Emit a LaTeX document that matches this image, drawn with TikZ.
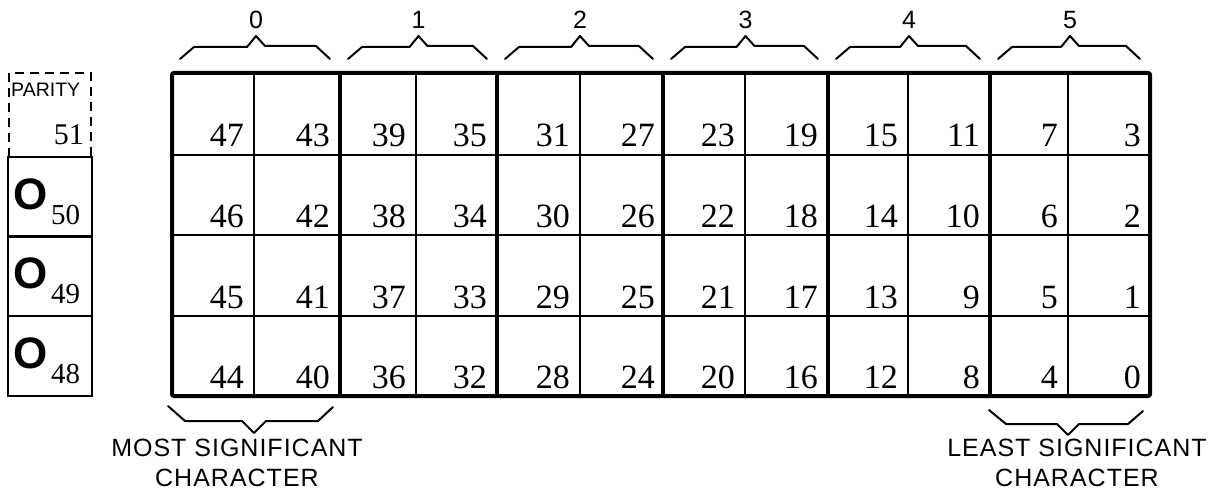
\documentclass[tikz,border=0pt]{standalone}
\usepackage{fontspec}
\setsansfont{Liberation Sans}
\newfontfamily\numfont{Liberation Serif}
\begin{document}
\begin{tikzpicture}[x=1pt,y=-1pt,
  num/.style={font=\numfont\fontsize{34}{34}\selectfont, anchor=base east, inner sep=0pt},
  sub/.style={font=\numfont\fontsize{29}{29}\selectfont, anchor=base west, inner sep=0pt},
  bigo/.style={font=\sffamily\bfseries\fontsize{44}{44}\selectfont, anchor=base west, inner sep=0pt},
  grplbl/.style={font=\sffamily\fontsize{25}{25}\selectfont, inner sep=0pt},
  caption/.style={font=\sffamily\fontsize{25}{30}\selectfont\addfontfeature{LetterSpace=4}, align=center, inner sep=0pt},
  thickline/.style={line width=4pt},
  thinline/.style={line width=1.5pt},
  boxline/.style={line width=2pt},
  bracestyle/.style={line width=2pt, line join=round, line cap=round}]
\useasboundingbox (0,0) rectangle (1212,497);

% thin horizontal lines
\foreach \y in {155,235,316}
  \draw[thinline] (172,\y) -- (1150,\y);
% thin vertical lines
\foreach \x in {254,416,580,745,908,1068}
  \draw[thinline] (\x,73) -- (\x,396);
% thick group separators
\foreach \x in {340,497,663,828,990}
  \draw[thickline] (\x,73) -- (\x,396);
% outer frame
\draw[thickline, rounded corners=2pt] (172,73) rectangle (1150,396);

% numbers
\foreach \yb [count=\ri from 0] in {147,227,308,388}{
  \foreach \b/\xr in {47/244,43/330,39/406,35/487,31/570,27/655,23/735,19/818,15/898,11/980,7/1058,3/1141}{
    \pgfmathtruncatemacro\v{\b-\ri}
    \node[num] (n\v) at (\xr,\yb) {\v};
  }
}

% group braces and labels
\foreach \L/\R/\g in {172/340/0,340/497/1,497/663/2,663/828/3,828/990/4,990/1150/5}{
  \pgfmathsetmacro\M{(\L+\R)/2}
  \draw[bracestyle] (\L+8,59) -- (\L+22,47) -- (\M-9,47) -- (\M,36) -- (\M+9,46) -- (\R-24,46) -- (\R-10,59);
  \node[grplbl] (g\g) at (\M,20) {\g};
}

% bottom braces
\draw[bracestyle] (168,406) -- (185,421) -- (242,421) -- (254,433) -- (266,421) -- (318,421) -- (333,407);
\draw[bracestyle] (989,410) -- (1006,424) -- (1057,424) -- (1068,435) -- (1079,424) -- (1128,424) -- (1143,411);

\node[caption] (msc) at (237,463) {MOST SIGNIFICANT\\CHARACTER};
\node[caption] (lsc) at (1077,463) {LEAST SIGNIFICANT\\CHARACTER};

% left column
\draw[boxline, dashed, dash pattern=on 9pt off 6pt] (9,157) -- (9,73) -- (91,73) -- (91,157);
\node[font=\sffamily\fontsize{19.5}{19.5}\selectfont, anchor=base west, inner sep=0pt] (parity) at (11,97) {PARITY};
\node[font=\numfont\fontsize{30}{30}\selectfont, anchor=base east, inner sep=0pt] (p51) at (84,145) {51};

\foreach \t/\s in {157/50,236/49,316/48}{
  \pgfmathsetmacro\bot{\t+80}
  \draw[boxline] (8,\t) rectangle (92,\bot);
  \node[bigo] (o\s) at (13,\t+52) {O};
  \node[sub] (s\s) at (51,\bot-13) {\s};
}
\end{tikzpicture}
\end{document}
